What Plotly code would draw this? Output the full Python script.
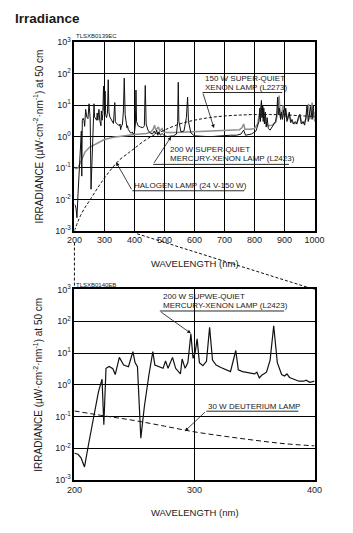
import plotly.graph_objects as go

W, H = 353, 533

# ---------------- DATA ----------------
# Top chart: 200-1000 nm
xenon_wl = [200, 205, 212, 218, 225, 235, 250, 270, 300, 330, 360, 400, 440, 455, 462, 467, 471,
            475, 480, 484, 492, 497, 510, 540, 580, 620, 660, 700, 730, 750, 758, 764, 768, 785,
            800, 810, 818, 823, 826, 828, 834, 845, 860, 872, 877, 882, 886, 890, 895, 899, 904,
            910, 916, 922, 930, 940, 946, 951, 957, 965, 971, 975, 980, 984, 988, 992, 996, 1000]
xenon_val = [0.1, 0.095, 0.1, 0.14, 0.2, 0.32, 0.45, 0.58, 0.8, 0.95, 1.05, 1.15, 1.25, 1.4, 1.7,
             2.3, 1.6, 1.8, 2.0, 1.5, 1.8, 1.4, 1.35, 1.35, 1.4, 1.45, 1.5, 1.55, 1.6, 1.65, 1.9,
             2.5, 1.7, 1.7, 1.8, 2.5, 6, 12, 4, 9, 3, 2.2, 2.3, 3, 6, 20, 4, 5, 10, 4, 7, 3.5, 5, 3,
             2.6, 2.6, 3.5, 5, 2.8, 2.6, 3.5, 6, 11, 3.5, 5, 12, 4, 6]

hgxe_vis_wl = [403, 405, 407, 412, 420, 428, 433, 436, 439, 445, 452, 460, 466, 470, 474, 478, 482,
               486, 492, 500, 510, 520, 530, 540, 544, 546, 548, 555, 565, 573, 577, 580, 588, 600,
               620, 640, 660, 680, 700, 720, 740, 755, 764, 770, 790, 805, 812, 815, 818, 820, 823,
               825, 827, 829, 831, 833, 836, 839, 842, 846, 852, 858, 864, 870, 874, 877, 880, 883,
               887, 890, 893, 897, 901, 904, 908, 912, 916, 920, 925, 930, 936, 941, 946, 951, 956,
               962, 967, 971, 975, 979, 983, 987, 992, 996, 1000]
hgxe_vis_val = [2.5, 30, 3, 2.2, 2.0, 1.9, 2.2, 42, 2.5, 1.6, 1.3, 1.2, 1.5, 1.2, 1.6, 1.1, 1.4,
                1.1, 1.25, 1.05, 1.0, 1.05, 1.05, 1.2, 3, 53, 3, 1.4, 1.5, 4, 18, 3, 1.3, 1.05,
                1.0, 1.0, 1.0, 1.05, 1.05, 1.1, 1.1, 1.2, 1.6, 1.1, 1.2, 1.5, 2.5, 3, 8, 3, 14,
                4, 10, 3, 8, 2.5, 6, 2, 4, 1.8, 1.6, 2, 2.4, 3, 5, 18, 5, 8,
                3.5, 6, 3.5, 7, 4, 8, 3, 4, 6, 2.8, 3.5, 2.5, 3, 2.5, 4, 5, 2.5,
                3, 2.3, 4, 10, 3, 5, 9, 3.5, 10, 3]

halogen_wl = [200, 210, 220, 235, 250, 270, 290, 320, 350, 380, 400, 430, 460, 500, 550, 600, 650,
              700, 750, 800, 850, 900, 950, 1000]
halogen_val = [0.001, 0.0018, 0.003, 0.0055, 0.009, 0.018, 0.035, 0.085, 0.18, 0.3, 0.42, 0.7,
               1.05, 1.6, 2.5, 3.3, 4.0, 4.5, 4.8, 5.0, 5.0, 4.9, 4.6, 4.3]

# Bottom chart: 200-400 nm
hgxe_uv_wl = [200, 203, 205.5, 208.4, 212, 216, 220, 223, 224.5, 226.3, 229, 232, 234, 237.4, 241,
              245, 248.7, 250.5, 252.5, 255.3, 258.2, 262, 265.3, 267, 270, 273.8, 275.9, 278,
              281.7, 284.3, 288.3, 289.7, 292.2, 294.5, 297, 298.8, 300.5, 302.2, 304.1, 307, 310,
              312.6, 315, 318, 322, 326, 330, 334.4, 336.5, 340, 345, 350, 352, 354, 356, 360, 363,
              366, 369, 372.6, 375, 377, 379.2, 383, 387, 391, 393, 396, 400]
hgxe_uv_val = [0.007, 0.0065, 0.005, 0.0026, 0.015, 0.1, 0.6, 1.5, 0.055, 3.3, 3.8, 3.2, 2.1, 7.3,
               4.2, 3.7, 11, 5, 3.7, 0.021, 0.2, 2.0, 11, 4.2, 3.8, 3.3, 5.6, 3.3, 7.3, 3.3, 2.2,
               6.5, 3.3, 5, 40, 6.8, 10, 28, 5, 4, 5.5, 64, 6, 4.2, 3.5, 3.0, 2.6, 12, 2.95, 2.6,
               2.4, 2.2, 2.5, 1.65, 2.0, 2.5, 6, 72, 5, 2.1, 1.9, 2.2, 1.7, 1.5, 1.3, 1.3, 1.4,
               1.2, 1.3]

deut_wl = [200, 225, 250, 275, 300, 325, 350, 375, 400]
deut_val = [0.15, 0.105, 0.075, 0.05, 0.033, 0.024, 0.018, 0.014, 0.012]

top_xticks = [200, 300, 400, 500, 600, 700, 800, 900, 1000]
bot_xticks = [200, 300, 400]
y_tickvals = [0.001, 0.01, 0.1, 1, 10, 100, 1000]
y_ticktext = ["10<sup>-3</sup>", "10<sup>-2</sup>", "10<sup>-1</sup>", "10<sup>0</sup>",
              "10<sup>1</sup>", "10<sup>2</sup>", "10<sup>3</sup>"]

hgxe_top_wl = hgxe_uv_wl + hgxe_vis_wl
hgxe_top_val = hgxe_uv_val + hgxe_vis_val

# ---------------- FIGURE ----------------
def X(px):
    return px / W


def Y(py):
    return 1 - py / H


FONT = "Liberation Sans, Arial, sans-serif"
TXT = "#1a1a1a"

fig = go.Figure()
fig.add_trace(go.Scatter(x=xenon_wl, y=xenon_val, mode="lines",
                         line=dict(color="#8f8f8f", width=1.5), xaxis="x", yaxis="y",
                         showlegend=False, hoverinfo="skip"))
fig.add_trace(go.Scatter(x=hgxe_top_wl, y=hgxe_top_val, mode="lines",
                         line=dict(color="#111111", width=1.0), xaxis="x", yaxis="y",
                         showlegend=False, hoverinfo="skip"))
fig.add_trace(go.Scatter(x=halogen_wl, y=halogen_val, mode="lines", line_shape="spline",
                         line=dict(color="#111111", width=1, dash="3px,2px"), xaxis="x", yaxis="y",
                         showlegend=False, hoverinfo="skip"))
fig.add_trace(go.Scatter(x=hgxe_uv_wl, y=hgxe_uv_val, mode="lines",
                         line=dict(color="#111111", width=1.2), xaxis="x2", yaxis="y2",
                         showlegend=False, hoverinfo="skip"))
fig.add_trace(go.Scatter(x=deut_wl, y=deut_val, mode="lines", line_shape="spline",
                         line=dict(color="#111111", width=1, dash="5px,3px"), xaxis="x2", yaxis="y2",
                         showlegend=False, hoverinfo="skip"))

axis_common = dict(showgrid=True, gridcolor="#000000", gridwidth=1.3, showline=True, mirror=True,
                   linecolor="#000000", linewidth=1.5, ticks="", zeroline=False,
                   tickfont=dict(family=FONT, size=9, color=TXT), fixedrange=True)

fig.update_layout(
    width=W, height=H, margin=dict(l=0, r=0, t=0, b=0),
    paper_bgcolor="white", plot_bgcolor="white", showlegend=False,
    xaxis=dict(domain=[X(70), X(323)], anchor="y", range=[200, 1000], tickvals=top_xticks,
               **axis_common),
    yaxis=dict(domain=[Y(229), Y(36)], anchor="x", type="log", range=[-3, 3],
               tickvals=y_tickvals, ticktext=y_ticktext, **axis_common),
    xaxis2=dict(domain=[X(70), X(323)], anchor="y2", range=[200, 400], tickvals=bot_xticks,
                **axis_common),
    yaxis2=dict(domain=[Y(484), Y(289)], anchor="x2", type="log", range=[-3, 3],
                tickvals=y_tickvals, ticktext=y_ticktext, **axis_common),
)

ann = []


def text(px, py, s, size=8, xanchor="left", yanchor="middle", angle=0):
    ann.append(dict(x=X(px), y=Y(py), xref="paper", yref="paper", text=s, showarrow=False,
                    xanchor=xanchor, yanchor=yanchor, textangle=angle, align="left",
                    borderpad=0, font=dict(family=FONT, size=size, color=TXT)))


text(6, 12, "<b>Irradiance</b>", size=13.5)
text(71, 29.5, "TLSXB0139EC", size=6)
text(71, 284.5, "TLSXB0140EB", size=6)
ytitle = "IRRADIANCE (µW·cm<sup>-2</sup>·nm<sup>-1</sup>) at 50 cm"
text(32, 132, ytitle, size=10, xanchor="center", angle=-90)
text(32, 386, ytitle, size=10, xanchor="center", angle=-90)
text(197, 262, "WAVELENGTH (nm)", size=9.5, xanchor="center")
text(197, 517, "WAVELENGTH (nm)", size=9.5, xanchor="center")

# labels (one annotation per line)
text(207, 73, "150 W SUPER-QUIET")
text(207, 82, "XENON LAMP (L2273)")
text(170, 146, "200 W SUPER-QUIET")
text(170, 155.5, "MERCURY-XENON LAMP (L2423)")
text(132, 182.5, "HALOGEN LAMP (24 V-150 W)")
text(162, 296, "200 W SUPWE-QUIET")
text(162, 305.5, "MERCURY-XENON LAMP (L2423)")
text(210, 408.5, "30 W DEUTERIUM LAMP")


def leader(xref, yref, hx, hy, tx, ty):
    ann.append(dict(x=hx, y=hy, ax=tx, ay=ty, xref=xref, yref=yref, axref=xref, ayref=yref,
                    text="", showarrow=True, arrowhead=2, arrowsize=0.9, arrowwidth=0.8,
                    arrowcolor="#111111"))


leader("x", "y", 665, 0.27, 627, 1.414)
leader("x", "y", 522, -0.01, 462, -0.886)
leader("x", "y", 339, -0.82, 393, -1.725)
leader("x2", "y2", 297, 1.62, 271, 2.32)
leader("x2", "y2", 292, -1.46, 310, -0.815)

fig.update_layout(annotations=ann)

shapes = []


def pline(x0, y0, x1, y1, dash="solid", width=0.9):
    shapes.append(dict(type="line", xref="paper", yref="paper", x0=X(x0), y0=Y(y0), x1=X(x1),
                       y1=Y(y1), line=dict(color="#111111", width=width, dash=dash)))


# underlines
pline(205, 87.5, 289, 87.5)
pline(153, 161, 296, 161)
pline(131, 188, 249, 188)
pline(160, 311, 291, 311)
pline(209, 413.5, 306, 413.5)
# zoom connectors
pline(70, 241, 70, 288, dash="3px,2px", width=1)
pline(136, 232, 323, 289, dash="3px,2px", width=1)

fig.update_layout(shapes=shapes)

fig.write_html("out.html")
